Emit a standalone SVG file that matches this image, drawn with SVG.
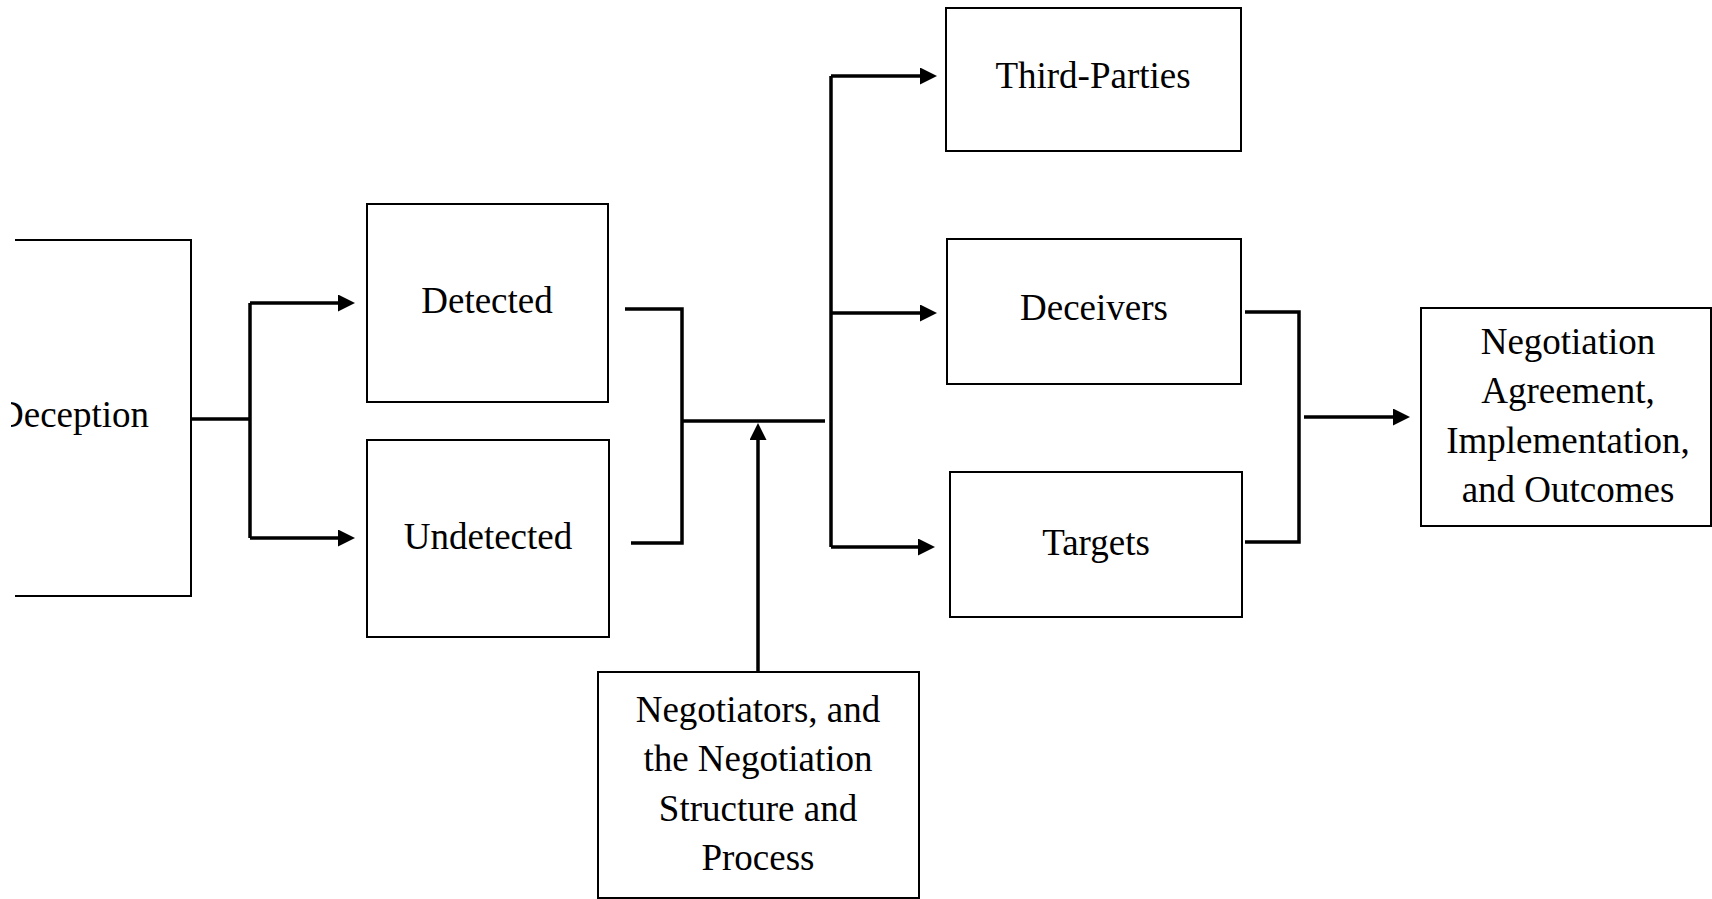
<svg xmlns="http://www.w3.org/2000/svg" width="1712" height="899" viewBox="0 0 1712 899">
<style>
.box{fill:#fff;stroke:#000;stroke-width:2}
.lbl{font-family:"Liberation Serif","Times New Roman",serif;font-size:37px;fill:#000;text-anchor:middle}
.con{fill:none;stroke:#000;stroke-width:3.5}
</style>
<defs>
<marker id="ah" markerUnits="userSpaceOnUse" markerWidth="17" markerHeight="17" viewBox="0 0 17 17" refX="7" refY="8.5" orient="auto">
<path d="M0,0 L17,8.5 L0,17 z" fill="#000"/>
</marker>
<clipPath id="clipL"><rect x="11" y="0" width="1701" height="899"/></clipPath>
</defs>
<rect width="1712" height="899" fill="#fff"/>
<g id="deception">
<path d="M15,240 H191 V596 H15" fill="none" stroke="#000" stroke-width="2"/>
<text class="lbl" x="73" y="427" clip-path="url(#clipL)">Deception</text>
</g>
<g id="detected">
<rect class="box" x="367" y="204" width="241" height="198"/>
<text class="lbl" x="487" y="313">Detected</text>
</g>
<g id="undetected">
<rect class="box" x="367" y="440" width="242" height="197"/>
<text class="lbl" x="488" y="549">Undetected</text>
</g>
<g id="negotiators">
<rect class="box" x="598" y="672" width="321" height="226"/>
<text class="lbl" x="758" y="722">Negotiators, and</text>
<text class="lbl" x="758" y="771">the Negotiation</text>
<text class="lbl" x="758" y="821">Structure and</text>
<text class="lbl" x="758" y="870">Process</text>
</g>
<g id="third-parties">
<rect class="box" x="946" y="8" width="295" height="143"/>
<text class="lbl" x="1093" y="88">Third-Parties</text>
</g>
<g id="deceivers">
<rect class="box" x="947" y="239" width="294" height="145"/>
<text class="lbl" x="1094" y="320">Deceivers</text>
</g>
<g id="targets">
<rect class="box" x="950" y="472" width="292" height="145"/>
<text class="lbl" x="1096" y="555">Targets</text>
</g>
<g id="outcomes">
<rect class="box" x="1421" y="308" width="290" height="218"/>
<text class="lbl" x="1568" y="354">Negotiation</text>
<text class="lbl" x="1568" y="403">Agreement,</text>
<text class="lbl" x="1568" y="453">Implementation,</text>
<text class="lbl" x="1568" y="502">and Outcomes</text>
</g>
<g id="connectors">
<path class="con" d="M191,419 H250"/>
<path class="con" d="M250,303 V538"/>
<path class="con" d="M250,303 H345" marker-end="url(#ah)"/>
<path class="con" d="M250,538 H345" marker-end="url(#ah)"/>
<path class="con" d="M625,309 H682 V543 H631"/>
<path class="con" d="M682,421 H825"/>
<path class="con" d="M758,671 V433" marker-end="url(#ah)"/>
<path class="con" d="M831,76 V547"/>
<path class="con" d="M831,76 H927" marker-end="url(#ah)"/>
<path class="con" d="M831,313 H927" marker-end="url(#ah)"/>
<path class="con" d="M831,547 H925" marker-end="url(#ah)"/>
<path class="con" d="M1245,312 H1299 V542 H1245"/>
<path class="con" d="M1304,417 H1400" marker-end="url(#ah)"/>
</g>
</svg>
